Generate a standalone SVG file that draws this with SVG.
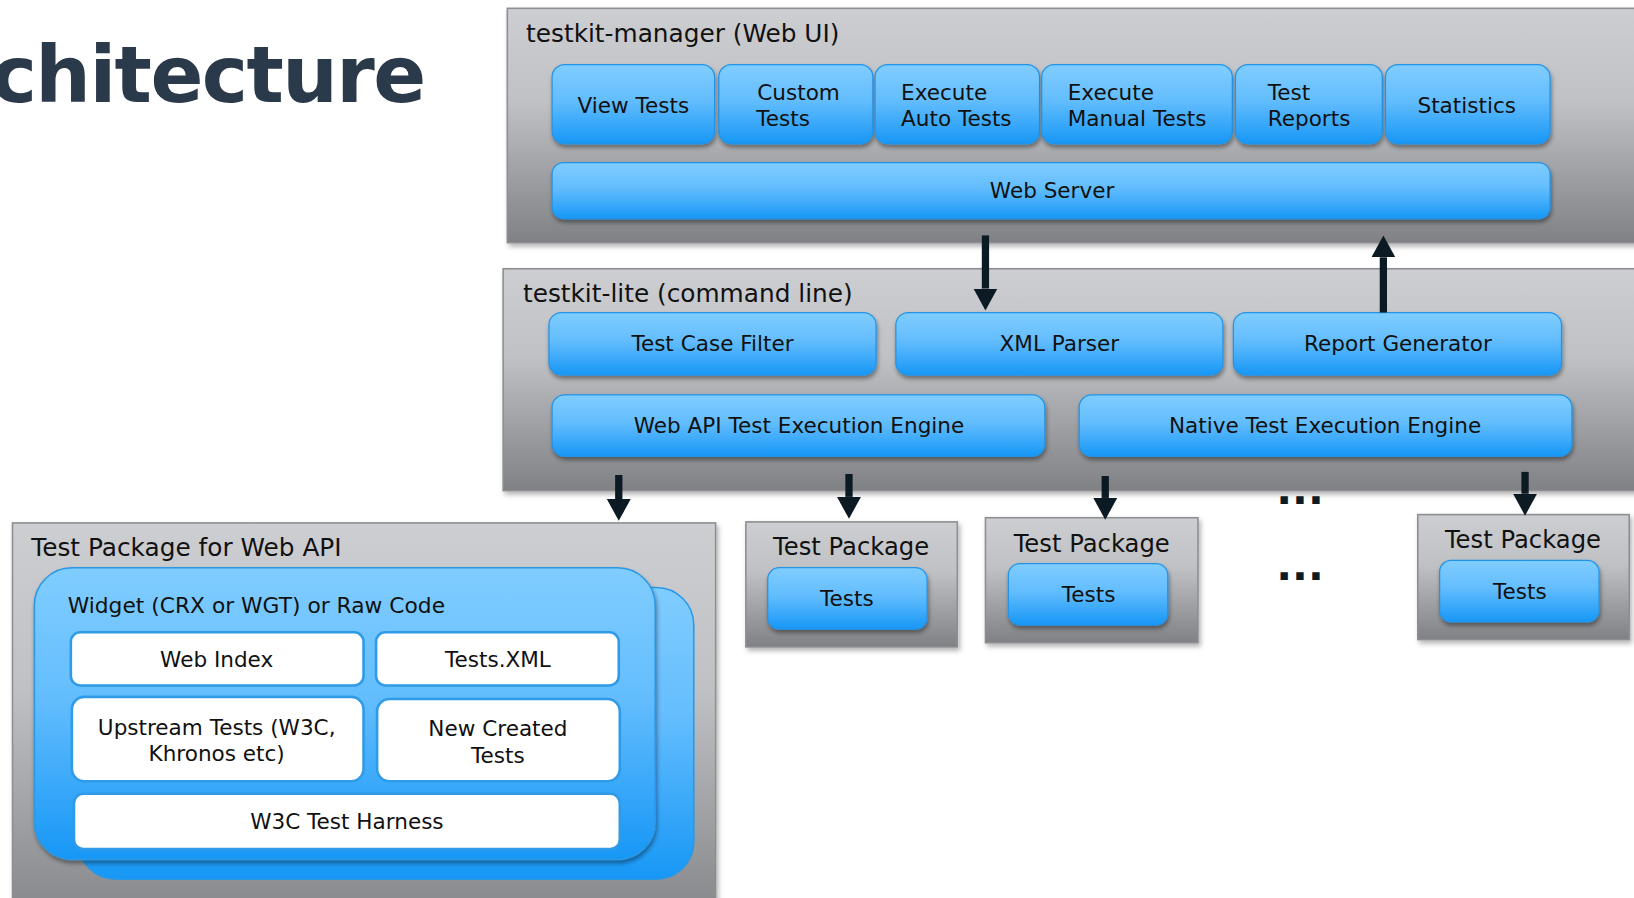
<svg xmlns="http://www.w3.org/2000/svg" width="1634" height="898" viewBox="0 0 1634 898">
<defs>
<linearGradient id="gGray" x1="0" y1="0" x2="0" y2="1">
<stop offset="0" stop-color="#cdced1"/>
<stop offset="0.4" stop-color="#c0c1c4"/>
<stop offset="1" stop-color="#7f8184"/>
</linearGradient>
<linearGradient id="gBlue" x1="0" y1="0" x2="0" y2="1">
<stop offset="0" stop-color="#80cdff"/>
<stop offset="0.45" stop-color="#63bdfd"/>
<stop offset="1" stop-color="#1797f6"/>
</linearGradient>
<filter id="shBox" x="-5%" y="-5%" width="115%" height="120%">
<feDropShadow dx="2" dy="3" stdDeviation="2.5" flood-color="#000" flood-opacity="0.3"/>
</filter>
<filter id="shBtn" x="-5%" y="-10%" width="115%" height="140%">
<feDropShadow dx="1" dy="3" stdDeviation="2" flood-color="#000" flood-opacity="0.4"/>
</filter>
<marker id="ah" markerUnits="userSpaceOnUse" markerWidth="22" markerHeight="24" refX="0" refY="11.5" orient="auto" viewBox="0 0 22 23">
<path d="M0,0 L21,11.5 L0,23 z" fill="#0c1a23"/>
</marker>
<style>
.grp{fill:url(#gGray);stroke:#8d8e91;stroke-width:1.5;filter:url(#shBox)}
.btn{fill:url(#gBlue);stroke:#2393e6;stroke-width:1.2;filter:url(#shBtn)}
.card{fill:url(#gBlue);stroke:#2a98e4;stroke-width:1.5}
.wht{fill:#ffffff;stroke:#2f9be8;stroke-width:2.5}
.t{font-family:"DejaVu Sans","Liberation Sans",sans-serif;fill:#111;font-size:20.7px}
.c{text-anchor:middle}
.gt{font-size:23.8px}
.pt{font-size:23.3px}
.conn{stroke:#0c1a23;stroke-width:7;fill:none;marker-end:url(#ah)}
</style>
</defs>
<rect width="1634" height="898" fill="#ffffff"/>
<g transform="scale(1.0417)">
<g id="title">
<text x="-9" y="98" font-family="DejaVu Sans,Liberation Sans,sans-serif" font-weight="bold" font-size="75" letter-spacing="-1.5" fill="#2b3a4a">chitecture</text>
</g>

<g id="testkit-manager">
<rect class="grp" x="487" y="8" width="1160" height="225"/>
<text class="t gt" x="505" y="40">testkit-manager (Web UI)</text>
</g>
<g id="view-tests"><rect class="btn" x="530" y="62" width="156" height="76" rx="12"/><text class="t c" x="608" y="108">View Tests</text></g>
<g id="custom-tests"><rect class="btn" x="690" y="62" width="148" height="76" rx="12"/><text class="t" x="727" y="96">Custom</text><text class="t" x="726" y="121">Tests</text></g>
<g id="execute-auto"><rect class="btn" x="840" y="62" width="158" height="76" rx="12"/><text class="t" x="865" y="96">Execute</text><text class="t" x="865" y="121">Auto Tests</text></g>
<g id="execute-manual"><rect class="btn" x="1000" y="62" width="183" height="76" rx="12"/><text class="t" x="1025" y="96">Execute</text><text class="t" x="1025" y="121">Manual Tests</text></g>
<g id="test-reports"><rect class="btn" x="1186" y="62" width="141" height="76" rx="12"/><text class="t" x="1217" y="96">Test</text><text class="t" x="1217" y="121">Reports</text></g>
<g id="statistics"><rect class="btn" x="1330" y="62" width="158" height="76" rx="12"/><text class="t c" x="1408" y="108">Statistics</text></g>
<g id="web-server"><rect class="btn" x="530" y="156" width="958" height="54" rx="11"/><text class="t c" x="1010" y="190">Web Server</text></g>

<g id="testkit-lite">
<rect class="grp" x="483" y="258" width="1170" height="213"/>
<text class="t gt" x="502" y="290">testkit-lite (command line)</text>
</g>
<g id="test-case-filter"><rect class="btn" x="527" y="300" width="314" height="60" rx="12"/><text class="t c" x="684" y="337">Test Case Filter</text></g>
<g id="xml-parser"><rect class="btn" x="860" y="300" width="314" height="60" rx="12"/><text class="t c" x="1017" y="337">XML Parser</text></g>
<g id="report-generator"><rect class="btn" x="1184" y="300" width="315" height="60" rx="12"/><text class="t c" x="1342" y="337">Report Generator</text></g>
<g id="web-api-engine"><rect class="btn" x="530" y="379" width="473" height="59" rx="12"/><text class="t c" x="767" y="416">Web API Test Execution Engine</text></g>
<g id="native-engine"><rect class="btn" x="1036" y="379" width="473" height="59" rx="12"/><text class="t c" x="1272" y="416">Native Test Execution Engine</text></g>

<g id="pkg-webapi">
<rect class="grp" x="12" y="502" width="675" height="400"/>
<text class="t gt" x="30" y="534">Test Package for Web API</text>
<rect class="card" x="75" y="564" width="591" height="280" rx="36"/>
<rect class="card" x="33" y="545" width="596" height="280" rx="36" style="filter:url(#shBtn)"/>
<text class="t" x="65" y="588" style="font-size:20.9px">Widget (CRX or WGT) or Raw Code</text>
</g>
<g id="web-index"><rect class="wht" x="68" y="607" width="281" height="51" rx="9"/><text class="t c" x="208" y="640">Web Index</text></g>
<g id="tests-xml"><rect class="wht" x="361" y="607" width="233" height="51" rx="9"/><text class="t c" x="478" y="640">Tests.XML</text></g>
<g id="upstream-tests"><rect class="wht" x="69" y="669" width="280" height="81" rx="12"/><text class="t c" x="208" y="706">Upstream Tests (W3C,</text><text class="t c" x="208" y="731">Khronos etc)</text></g>
<g id="new-created-tests"><rect class="wht" x="362" y="671" width="233" height="79" rx="12"/><text class="t c" x="478" y="707">New Created</text><text class="t c" x="478" y="732">Tests</text></g>
<g id="w3c-harness"><rect class="wht" x="71" y="762" width="524" height="53" rx="9"/><text class="t c" x="333" y="796">W3C Test Harness</text></g>

<g id="pkg-1">
<rect class="grp" x="716" y="501" width="203" height="120"/>
<text class="t pt c" x="817" y="533">Test Package</text>
<rect class="btn" x="737" y="545" width="153" height="59" rx="11"/>
<text class="t c" x="813" y="582">Tests</text>
</g>
<g id="pkg-2">
<rect class="grp" x="946" y="497" width="204" height="120"/>
<text class="t pt c" x="1048" y="530">Test Package</text>
<rect class="btn" x="968" y="541" width="153" height="59" rx="11"/>
<text class="t c" x="1045" y="578">Tests</text>
</g>
<g id="pkg-n">
<rect class="grp" x="1361" y="494" width="203" height="120"/>
<text class="t pt c" x="1462" y="526">Test Package</text>
<rect class="btn" x="1382" y="538" width="153" height="59" rx="11"/>
<text class="t c" x="1459" y="575">Tests</text>
</g>

<g id="ellipsis">
<text x="1248" y="484" font-family="DejaVu Sans,sans-serif" font-weight="bold" font-size="40" fill="#0c1a23" text-anchor="middle">...</text>
<text x="1248" y="557" font-family="DejaVu Sans,sans-serif" font-weight="bold" font-size="40" fill="#0c1a23" text-anchor="middle">...</text>
</g>

<g id="connectors">
<line class="conn" x1="946" y1="226" x2="946" y2="277"/>
<line class="conn" x1="1328" y1="300" x2="1328" y2="247"/>
<line class="conn" x1="594" y1="456" x2="594" y2="479"/>
<line class="conn" x1="815" y1="455" x2="815" y2="477"/>
<line class="conn" x1="1061" y1="457" x2="1061" y2="478"/>
<line class="conn" x1="1464" y1="453" x2="1464" y2="474"/>
</g>
</g>
</svg>
